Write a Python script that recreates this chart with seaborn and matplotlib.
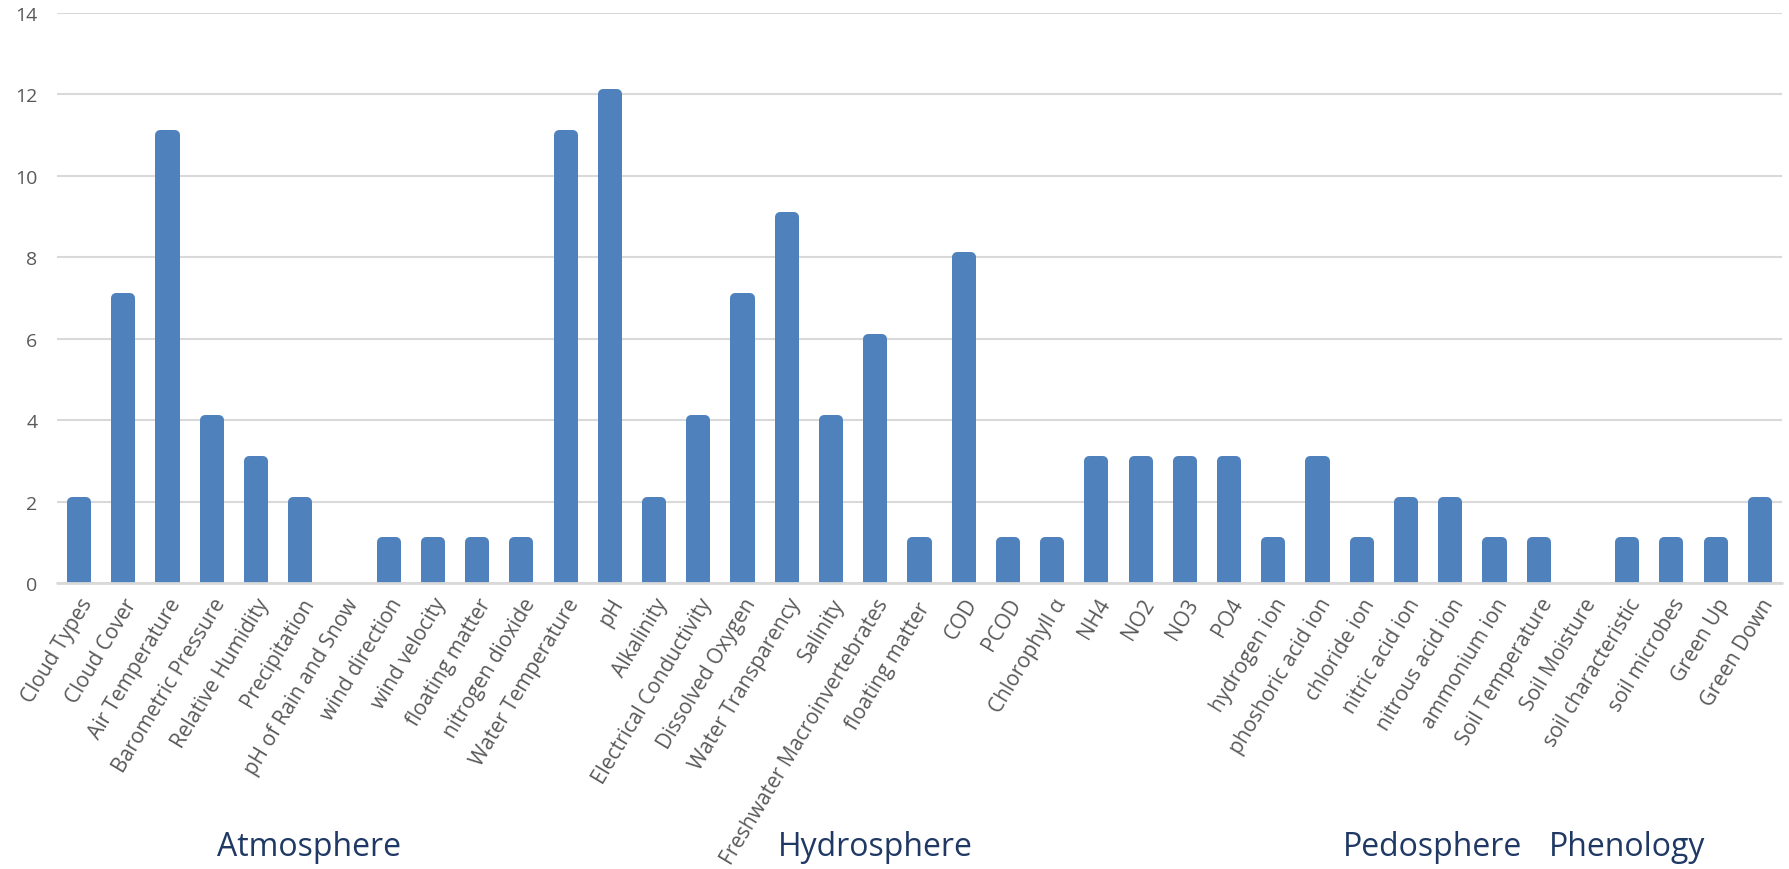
import numpy as np
import pandas as pd
import matplotlib
matplotlib.use('Agg')
import matplotlib.pyplot as plt
import seaborn as sns

# 항목 이름과 값
categories = [
    'Cloud Types', 'Cloud Cover', 'Air Temperature', 'Barometric Pressure',
    'Relative Humidity', 'Precipitation', 'pH of Rain and Snow', 'wind direction',
    'wind velocity', 'floating matter', 'nitrogen dioxide', 'Water Temperature',
    'pH', 'Alkalinity', 'Electrical Conductivity', 'Dissolved Oxygen',
    'Water Transparency', 'Salinity', 'Freshwater Macroinvertebrates',
    'floating matter ', 'COD', 'PCOD', 'Chlorophyll α', 'NH4', 'NO2', 'NO3', 'PO4',
    'hydrogen ion', 'phoshoric acid ion', 'chloride ion', 'nitric acid ion',
    'nitrous acid ion', 'ammonium ion', 'Soil Temperature', 'Soil Moisture',
    'soil characteristic', 'soil microbes', 'Green Up', 'Green Down',
]
counts = [2, 7, 11, 4, 3, 2, 0, 1, 1, 1, 1, 11,
          12, 2, 4, 7, 9, 4, 6, 1, 8, 1, 1, 3, 3, 3, 3,
          1, 3, 1, 2, 2, 1, 1, 0, 1, 1, 1, 2]

# 그룹 라벨과 대략적인 위치(카테고리 인덱스 기준)
groups = ['Atmosphere', 'Hydrosphere', 'Pedosphere', 'Phenology']
group_pos = [5.2, 18.0, 30.6, 35.0]

df = pd.DataFrame({'item': categories, 'count': counts})

sns.set_style('white')
plt.rcParams['font.family'] = ['Open Sans', 'DejaVu Sans']

fig = plt.figure(figsize=(17.9, 8.7), dpi=100)
ax = fig.add_axes([0.0318, 0.3287, 0.9637, 0.6553])

bar_color = '#4F81BD'
sns.barplot(data=df, x='item', y='count', color=bar_color, width=0.32,
            saturation=1, ax=ax, zorder=2)
# 둥근 모서리 느낌을 위해 두꺼운 테두리 사용 (0인 막대는 숨김)
for p, v in zip(ax.patches, counts):
    p.set_edgecolor(bar_color)
    p.set_linewidth(7.2 if v > 0 else 0)
    p.set_joinstyle('round')

ax.set_ylim(0, 14)
ax.set_xlim(-0.5, len(categories) - 0.5)
ax.set_yticks(range(0, 15, 2))
ax.yaxis.grid(True, color='#D9D9D9', linewidth=1.5, zorder=0)
ax.axhline(0, color='#D9D9D9', linewidth=2, zorder=3, clip_on=False)
ax.set_axisbelow(True)
for s in ax.spines.values():
    s.set_visible(False)

ax.set_xlabel('')
ax.set_ylabel('')
ax.tick_params(axis='y', labelsize=14, labelcolor='#595959', length=0, pad=14)
ax.tick_params(axis='x', labelsize=15, labelcolor='#595959', length=0, pad=8)
ax.set_xticks(range(len(categories)))
ax.set_xticklabels(categories, rotation=59, ha='right', rotation_mode='anchor')

trans = matplotlib.transforms.blended_transform_factory(ax.transData, fig.transFigure)
for g, x in zip(groups, group_pos):
    ax.text(x, 0.016, g, transform=trans, ha='center', va='baseline',
            fontsize=23, color='#1F3864')

fig.savefig('out.png', dpi=100)
